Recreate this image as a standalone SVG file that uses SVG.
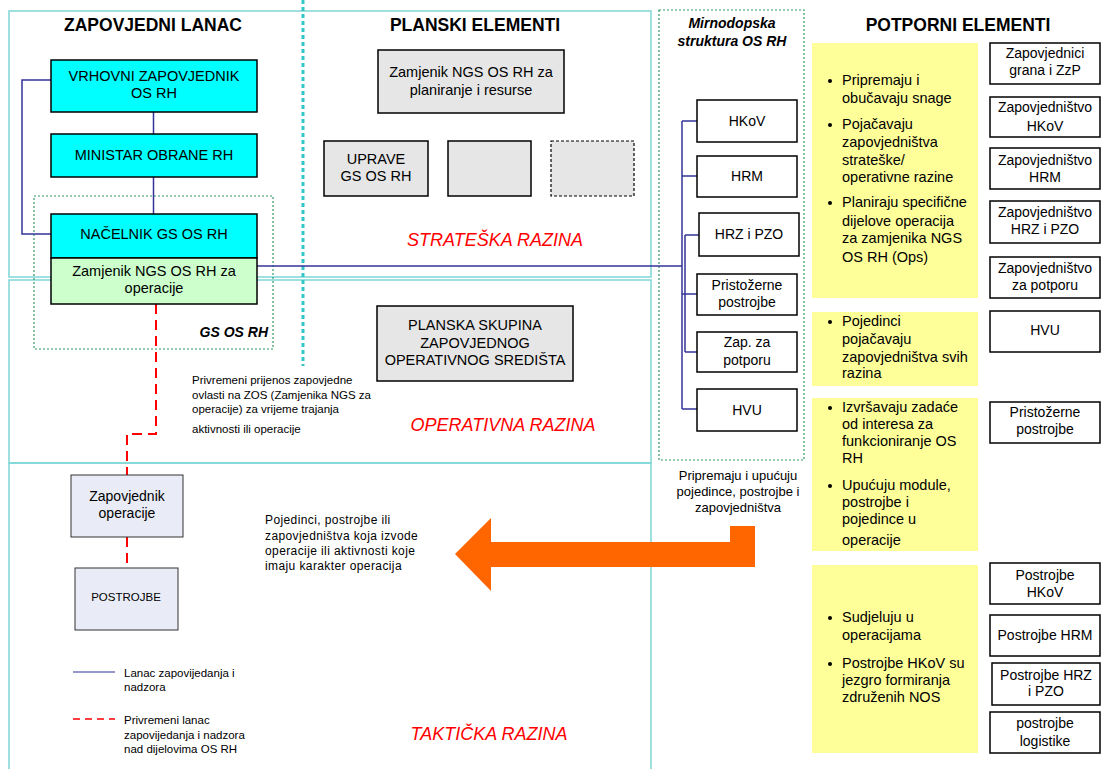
<svg xmlns="http://www.w3.org/2000/svg" width="1101" height="769" viewBox="0 0 1101 769">
<style>
text{font-family:"Liberation Sans",Arial,sans-serif;fill:#000}
.h{font-size:17.5px;font-weight:bold}
.n{font-size:14px}
.m{font-size:14.5px}
.y{font-size:14.5px}
.s{font-size:11.5px}
.t{font-size:12px;letter-spacing:0.4px}
.lvl{font-size:18px;font-style:italic;fill:#FF0000}
.c{text-anchor:middle}
.frame{fill:none;stroke:#7FD6D6;stroke-width:1.5}
.cy{fill:#00FFFF;stroke:#000;stroke-width:1.5}
.gr{fill:#E6E6E6;stroke:#000;stroke-width:1.5}
.wh{fill:#FFF;stroke:#000;stroke-width:1.5}
.bl{fill:#E9ECF6;stroke:#333;stroke-width:1}
.yl{fill:#FFFF99;stroke:none}
.blue{fill:none;stroke:#333399;stroke-width:1.5}
.red{fill:none;stroke:#FF0000;stroke-width:2;stroke-dasharray:10 6}
.gdot{fill:none;stroke:#339966;stroke-width:1.2;stroke-dasharray:2 2}
</style>
<rect width="1101" height="769" fill="#FFF"/>
<g id="frames">
<rect class="frame" x="9" y="11" width="642" height="266"/>
<rect class="frame" x="9" y="280" width="642" height="183"/>
<path class="frame" d="M9,463 H651 M9,463 V769 M651,463 V769"/>
<line x1="303" y1="0" x2="303" y2="366" stroke="#33C6C6" stroke-width="3" stroke-dasharray="4 3"/>
</g>
<g id="headers">
<text class="h c" x="153" y="31">ZAPOVJEDNI LANAC</text>
<text class="h c" x="475" y="31">PLANSKI ELEMENTI</text>
<text class="h c" x="958" y="31">POTPORNI ELEMENTI</text>
</g>
<g id="levels">
<text class="lvl c" x="495" y="246">STRATEŠKA RAZINA</text>
<text class="lvl c" x="503" y="431">OPERATIVNA RAZINA</text>
<text class="lvl c" x="489" y="740">TAKTIČKA RAZINA</text>
</g>
<g id="gs-os-rh">
<rect class="gdot" x="34" y="196" width="239" height="153"/>
<text x="268" y="337" text-anchor="end" style="font-size:14px;font-weight:bold;font-style:italic">GS OS RH</text>
</g>
<g id="mirnodopska">
<rect class="gdot" x="659" y="10" width="145" height="450"/>
<text class="c" x="732" y="28" style="font-size:14px;font-weight:bold;font-style:italic">Mirnodopska</text>
<text class="c" x="732" y="46" style="font-size:14px;font-weight:bold;font-style:italic">struktura OS RH</text>
</g>
<g id="connectors">
<path class="blue" d="M51,80 H22 V234 H51"/>
<path class="blue" d="M153.5,112 V134 M153.5,177 V214"/>
<path class="blue" d="M257,266 H682"/>
<path class="blue" d="M682,121 V409 M682,121 H697 M682,176 H697 M682,294 H697 M682,409 H697"/>
<path class="blue" d="M685,235 V352 M685,235 H699 M685,352 H697"/>
<path class="red" d="M156,304 V434 H127 V475"/>
<path class="red" d="M127,537 V568"/>
</g>
<g id="vrhovni">
<rect class="cy" x="51" y="60" width="206" height="52"/>
<text class="m c" x="154" y="81">VRHOVNI ZAPOVJEDNIK</text>
<text class="m c" x="154" y="98">OS RH</text>
</g>
<g id="ministar">
<rect class="cy" x="51" y="134" width="206" height="43"/>
<text class="m c" x="154" y="160">MINISTAR OBRANE RH</text>
</g>
<g id="nacelnik">
<rect class="cy" x="51" y="214" width="206" height="44"/>
<text class="m c" x="154" y="239">NAČELNIK GS OS RH</text>
</g>
<g id="zamjenik-ops">
<rect x="51" y="258" width="206" height="46" fill="#CCFFCC" stroke="#000" stroke-width="1.5"/>
<text class="m c" x="154" y="276">Zamjenik NGS OS RH za</text>
<text class="m c" x="154" y="293">operacije</text>
</g>
<g id="zamjenik-plan">
<rect class="gr" x="378" y="50" width="186" height="63"/>
<text class="m c" x="471" y="77">Zamjenik NGS OS RH za</text>
<text class="m c" x="471" y="95">planiranje i resurse</text>
</g>
<g id="uprave">
<rect class="gr" x="324" y="141" width="104" height="55"/>
<text class="m c" x="376" y="164">UPRAVE</text>
<text class="m c" x="376" y="181">GS OS RH</text>
</g>
<g id="prazno1"><rect class="gr" x="448" y="141" width="83" height="55"/></g>
<g id="prazno2"><rect x="551" y="141" width="83" height="55" fill="#E6E6E6" stroke="#000" stroke-width="1.2" stroke-dasharray="3 2"/></g>
<g id="planska">
<rect class="gr" x="377" y="306" width="196" height="75"/>
<text class="m c" x="475" y="330">PLANSKA SKUPINA</text>
<text class="m c" x="475" y="348">ZAPOVJEDNOG</text>
<text class="m c" x="475" y="365">OPERATIVNOG SREDIŠTA</text>
</g>
<g id="privremeni-tekst">
<text class="s" x="192" y="384">Privremeni prijenos zapovjedne</text>
<text class="s" x="192" y="399">ovlasti na ZOS (Zamjenika NGS za</text>
<text class="s" x="192" y="413">operacije) za vrijeme trajanja</text>
<text class="s" x="192" y="433">aktivnosti ili operacije</text>
</g>
<g id="zapovjednik-op">
<rect class="bl" x="71" y="475" width="112" height="62"/>
<text class="n c" x="127" y="501">Zapovjednik</text>
<text class="n c" x="127" y="518">operacije</text>
</g>
<g id="postrojbe">
<rect class="bl" x="75" y="568" width="103" height="62"/>
<text class="c" x="126" y="601" style="font-size:11.5px">POSTROJBE</text>
</g>
<g id="legenda">
<line class="blue" x1="73" y1="672" x2="115" y2="672" style="stroke-width:1.2"/>
<text class="s" x="124" y="677">Lanac zapovijedanja i</text>
<text class="s" x="124" y="691">nadzora</text>
<line x1="73" y1="719" x2="115" y2="719" stroke="#FF0000" stroke-width="1.5" stroke-dasharray="7 5"/>
<text class="s" x="124" y="724">Privremeni lanac</text>
<text class="s" x="124" y="739">zapovijedanja i nadzora</text>
<text class="s" x="124" y="753">nad dijelovima OS RH</text>
</g>
<g id="pojedinci-tekst">
<text class="t" x="265" y="524">Pojedinci, postrojbe ili</text>
<text class="t" x="265" y="540">zapovjedništva koja izvode</text>
<text class="t" x="265" y="555">operacije ili aktivnosti koje</text>
<text class="t" x="265" y="570">imaju karakter operacija</text>
</g>
<g id="strelica">
<polygon points="455,554 491,518 491,542 730,542 730,526 755,526 755,567 491,567 491,591" fill="#FF6600"/>
</g>
<g id="hkov"><rect class="wh" x="697" y="100" width="100" height="42"/><text class="n c" x="747" y="126">HKoV</text></g>
<g id="hrm"><rect class="wh" x="697" y="156" width="100" height="41"/><text class="n c" x="747" y="181">HRM</text></g>
<g id="hrz"><rect class="wh" x="699" y="213" width="100" height="43"/><text class="n c" x="749" y="239">HRZ i PZO</text></g>
<g id="pristozerne"><rect class="wh" x="697" y="274" width="100" height="41"/><text class="n c" x="747" y="290">Pristožerne</text><text class="n c" x="747" y="307">postrojbe</text></g>
<g id="zap-potpora"><rect class="wh" x="697" y="332" width="100" height="40"/><text class="n c" x="747" y="347">Zap. za</text><text class="n c" x="747" y="365">potporu</text></g>
<g id="hvu"><rect class="wh" x="697" y="389" width="100" height="42"/><text class="n c" x="747" y="415">HVU</text></g>
<g id="pripremaju-tekst">
<text class="c" x="738" y="480" style="font-size:13px">Pripremaju i upućuju</text>
<text class="c" x="738" y="496" style="font-size:13px">pojedince, postrojbe i</text>
<text class="c" x="738" y="512" style="font-size:13px">zapovjedništva</text>
</g>
<g id="potpora-1">
<rect class="yl" x="812" y="43" width="166" height="255"/>
<circle cx="830" cy="81" r="2"/><circle cx="830" cy="125" r="2"/><circle cx="830" cy="203" r="2"/>
<text class="y" x="842" y="85">Pripremaju i</text>
<text class="y" x="842" y="103">obučavaju snage</text>
<text class="y" x="842" y="129">Pojačavaju</text>
<text class="y" x="842" y="147">zapovjedništva</text>
<text class="y" x="842" y="165">strateške/</text>
<text class="y" x="842" y="182">operativne razine</text>
<text class="y" x="842" y="207">Planiraju specifične</text>
<text class="y" x="842" y="226">dijelove operacija</text>
<text class="y" x="842" y="243">za zamjenika NGS</text>
<text class="y" x="842" y="262">OS RH (Ops)</text>
</g>
<g id="potpora-2">
<rect class="yl" x="812" y="312" width="166" height="74"/>
<circle cx="830" cy="322" r="2"/>
<text class="y" x="842" y="326">Pojedinci</text>
<text class="y" x="842" y="344">pojačavaju</text>
<text class="y" x="842" y="362">zapovjedništva svih</text>
<text class="y" x="842" y="378">razina</text>
</g>
<g id="potpora-3">
<rect class="yl" x="812" y="398" width="166" height="153"/>
<circle cx="830" cy="408" r="2"/><circle cx="830" cy="486" r="2"/>
<text class="y" x="842" y="412">Izvršavaju zadaće</text>
<text class="y" x="842" y="429">od interesa za</text>
<text class="y" x="842" y="446">funkcioniranje OS</text>
<text class="y" x="842" y="463">RH</text>
<text class="y" x="842" y="490">Upućuju module,</text>
<text class="y" x="842" y="507">postrojbe i</text>
<text class="y" x="842" y="524">pojedince u</text>
<text class="y" x="842" y="545">operacije</text>
</g>
<g id="potpora-4">
<rect class="yl" x="812" y="565" width="166" height="188"/>
<circle cx="830" cy="618" r="2"/><circle cx="830" cy="664" r="2"/>
<text class="y" x="842" y="622">Sudjeluju u</text>
<text class="y" x="842" y="640">operacijama</text>
<text class="y" x="842" y="668">Postrojbe HKoV su</text>
<text class="y" x="842" y="685">jezgro formiranja</text>
<text class="y" x="842" y="702">združenih NOS</text>
</g>
<g id="zap-grana"><rect class="wh" x="990" y="43" width="110" height="41"/><text class="n c" x="1045" y="58">Zapovjednici</text><text class="n c" x="1045" y="75">grana i ZzP</text></g>
<g id="zap-hkov"><rect class="wh" x="990" y="97" width="110" height="40"/><text class="n c" x="1045" y="112">Zapovjedništvo</text><text class="n c" x="1045" y="131">HKoV</text></g>
<g id="zap-hrm"><rect class="wh" x="990" y="148" width="110" height="41"/><text class="n c" x="1045" y="165">Zapovjedništvo</text><text class="n c" x="1045" y="182">HRM</text></g>
<g id="zap-hrz"><rect class="wh" x="990" y="201" width="110" height="42"/><text class="n c" x="1045" y="217">Zapovjedništvo</text><text class="n c" x="1045" y="234">HRZ i PZO</text></g>
<g id="zap-potpora"><rect class="wh" x="990" y="257" width="110" height="41"/><text class="n c" x="1045" y="273">Zapovjedništvo</text><text class="n c" x="1045" y="290">za potporu</text></g>
<g id="hvu-r"><rect class="wh" x="990" y="311" width="110" height="41"/><text class="n c" x="1045" y="335">HVU</text></g>
<g id="pristozerne-r"><rect class="wh" x="990" y="402" width="110" height="41"/><text class="n c" x="1045" y="417">Pristožerne</text><text class="n c" x="1045" y="434">postrojbe</text></g>
<g id="post-hkov"><rect class="wh" x="990" y="563" width="110" height="41"/><text class="n c" x="1045" y="580">Postrojbe</text><text class="n c" x="1045" y="597">HKoV</text></g>
<g id="post-hrm"><rect class="wh" x="990" y="615" width="110" height="41"/><text class="n c" x="1045" y="640">Postrojbe HRM</text></g>
<g id="post-hrz"><rect class="wh" x="992" y="663" width="108" height="42"/><text class="n c" x="1046" y="680">Postrojbe HRZ</text><text class="n c" x="1046" y="696">i PZO</text></g>
<g id="post-log"><rect class="wh" x="990" y="712" width="110" height="41"/><text class="n c" x="1045" y="728">postrojbe</text><text class="n c" x="1045" y="746">logistike</text></g>
</svg>
